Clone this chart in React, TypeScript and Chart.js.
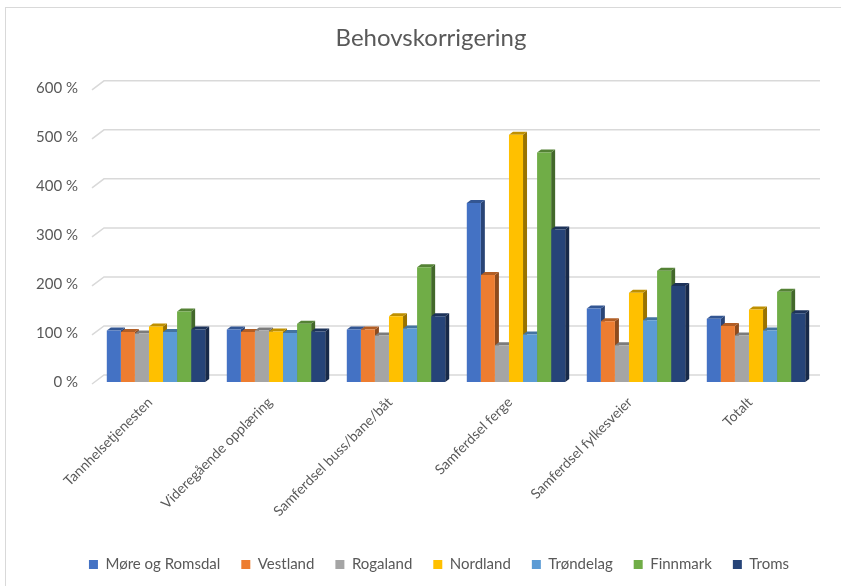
import React, { useEffect, useRef } from "react";
import { Chart, registerables } from "chart.js";

Chart.register(...registerables);

const title = "Behovskorrigering";
const categories = [
  "Tannhelsetjenesten",
  "Videregående opplæring",
  "Samferdsel buss/bane/båt",
  "Samferdsel ferge",
  "Samferdsel fylkesveier",
  "Totalt",
];
const seriesNames = ["Møre og Romsdal", "Vestland", "Rogaland", "Nordland", "Trøndelag", "Finnmark", "Troms"];
const moreOgRomsdal = [105, 107, 107, 365, 150, 129];
const vestland = [102, 102, 107, 218, 124, 114];
const rogaland = [99, 105, 95, 75, 75, 95];
const nordland = [113, 103, 134, 504, 182, 148];
const trondelag = [102, 100, 109, 97, 126, 105];
const finnmark = [144, 119, 234, 468, 227, 184];
const troms = [107, 103, 134, 311, 196, 140];
const seriesValues = [moreOgRomsdal, vestland, rogaland, nordland, trondelag, finnmark, troms];
const seriesColors = ["#4472C4", "#ED7D31", "#A5A5A5", "#FFC000", "#5B9BD5", "#70AD47", "#264478"];
const yTicks = [0, 100, 200, 300, 400, 500, 600];

const FONT = "Lato, 'Open Sans', sans-serif";
const TEXT = "#595959";

function shade(hex: string, f: number) {
  const n = parseInt(hex.slice(1), 16);
  const r = Math.round(((n >> 16) & 255) * f);
  const g = Math.round(((n >> 8) & 255) * f);
  const b = Math.round((n & 255) * f);
  return `rgb(${r},${g},${b})`;
}

const threeD = {
  id: "threeD",
  afterLayout(chart: any) {
    if (chart.titleBlock) {
      chart.titleBlock.left += 23;
      chart.titleBlock.right += 23;
    }
    if (chart.legend) {
      chart.legend.left += 31;
      chart.legend.right += 31;
    }
  },
  beforeDatasetsDraw(chart: any) {
    const ctx = chart.ctx;
    const area = chart.chartArea;
    const y = chart.scales.y;
    ctx.save();
    ctx.strokeStyle = "#d9d9d9";
    ctx.lineWidth = 1.5;
    yTicks.forEach((v) => {
      const p = y.getPixelForValue(v);
      ctx.beginPath();
      ctx.moveTo(area.left - 4, p + 2);
      ctx.lineTo(area.left + 8, p - 7);
      ctx.lineTo(area.right + 4, p - 7);
      ctx.stroke();
    });
    const d = 4;
    const dy = 3;
    chart.data.datasets.forEach((ds: any, i: number) => {
      const meta = chart.getDatasetMeta(i);
      const col = seriesColors[i];
      meta.data.forEach((bar: any) => {
        const { x, y: top, base, width } = bar.getProps(["x", "y", "base", "width"], true);
        const l = x - width / 2;
        const r = x + width / 2;
        ctx.fillStyle = shade(col, 0.6);
        ctx.beginPath();
        ctx.moveTo(r, top);
        ctx.lineTo(r + d, top - dy);
        ctx.lineTo(r + d, base - dy);
        ctx.lineTo(r, base);
        ctx.closePath();
        ctx.fill();
        ctx.fillStyle = shade(col, 0.75);
        ctx.beginPath();
        ctx.moveTo(l, top);
        ctx.lineTo(l + d, top - dy);
        ctx.lineTo(r + d, top - dy);
        ctx.lineTo(r, top);
        ctx.closePath();
        ctx.fill();
      });
    });
    ctx.restore();
  },
};

export default function App() {
  const ref = useRef<HTMLCanvasElement>(null);
  useEffect(() => {
    if (!ref.current) return;
    const chart = new Chart(ref.current, {
      type: "bar",
      data: {
        labels: categories,
        datasets: seriesNames.map((name, i) => ({
          label: name,
          data: seriesValues[i],
          backgroundColor: seriesColors[i],
          borderWidth: 0,
          categoryPercentage: 0.82,
          barPercentage: 1,
        })),
      },
      plugins: [threeD],
      options: {
        animation: false,
        responsive: false,
        maintainAspectRatio: false,
        layout: { padding: { left: 0, right: 25, top: 0, bottom: 4 } },
        plugins: {
          title: {
            display: true,
            text: title,
            color: TEXT,
            font: { family: FONT, size: 24, weight: "normal" },
            padding: { top: 24, bottom: 35 },
          },
          legend: {
            position: "bottom",
            labels: {
              color: TEXT,
              font: { family: FONT, size: 15 },
              boxWidth: 9,
              boxHeight: 9,
              padding: 21,
            },
          },
          tooltip: { enabled: false },
        },
        scales: {
          x: {
            grid: { display: false },
            border: { display: false },
            ticks: {
              color: TEXT,
              font: { family: FONT, size: 14 },
              maxRotation: 45,
              minRotation: 45,
              labelOffset: -6,
              padding: 4,
              autoSkip: false,
            },
            afterFit: (s: any) => {
              s.height = 154;
            },
          },
          y: {
            min: 0,
            max: 600,
            grid: { display: false },
            border: { display: false },
            ticks: {
              stepSize: 100,
              color: TEXT,
              font: { family: FONT, size: 15 },
              padding: 10,
              callback: (v: any) => `${v} %`,
            },
            afterFit: (s: any) => {
              s.width = 96;
            },
          },
        },
      },
    });
    return () => chart.destroy();
  }, []);
  return (
    <div style={{ position: "fixed", left: 0, top: 0, width: 841, height: 586, overflow: "hidden", background: "#fff" }}>
      <div
        style={{
          position: "absolute",
          left: 5,
          top: 7,
          width: 900,
          height: 700,
          border: "1.5px solid #d9d9d9",
          boxSizing: "border-box",
        }}
      />
      <canvas ref={ref} width={841} height={586} style={{ position: "absolute", left: 0, top: 0 }} />
    </div>
  );
}
